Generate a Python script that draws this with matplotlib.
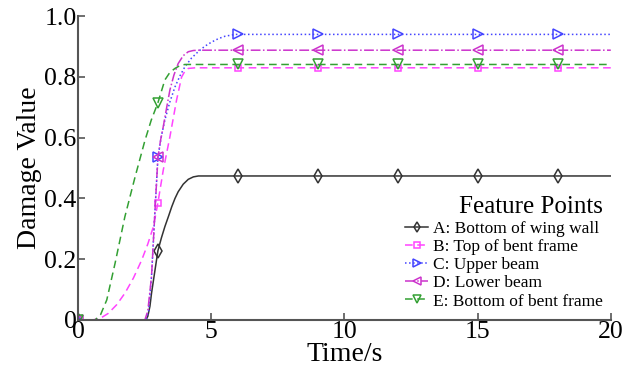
import numpy as np
import matplotlib.pyplot as plt

plt.rcParams['font.family'] = ['Liberation Serif', 'DejaVu Serif']

# ── Data (time in s, damage value) ───────────────────────────────────────────
t_a = [0, 2.55, 2.62, 2.7, 2.76, 2.89, 3.0, 3.13, 3.26, 3.4, 3.52, 3.64, 3.76, 3.95,
       4.14, 4.33, 4.52, 6, 9, 12, 15, 18, 20]
d_a = [0, 0, 0.012, 0.045, 0.088, 0.164, 0.228, 0.27, 0.307, 0.342, 0.373, 0.4,
       0.422, 0.447, 0.463, 0.471, 0.474, 0.474, 0.474, 0.474, 0.474, 0.474, 0.474]

t_b = [0, 0.55, 0.85, 1.14, 1.45, 1.76, 2.08, 2.39, 2.62, 2.83, 3.0, 3.2, 3.45, 3.70,
       3.89, 4.02, 4.14, 4.4, 6, 9, 12, 15, 18, 20]
d_b = [0, 0, 0.006, 0.022, 0.05, 0.088, 0.138, 0.197, 0.25, 0.307, 0.386, 0.493,
       0.603, 0.724, 0.80, 0.82, 0.828, 0.83, 0.83, 0.83, 0.83, 0.83, 0.83, 0.83]

t_c = [0, 2.55, 2.65, 2.76, 2.89, 3.0, 3.13, 3.26, 3.45, 3.64, 3.83, 4.01, 4.26, 4.51,
       4.76, 5.02, 5.27, 5.52, 5.9, 6, 9, 12, 15, 18, 20]
d_c = [0, 0, 0.03, 0.143, 0.36, 0.535, 0.605, 0.658, 0.718, 0.767, 0.804, 0.833,
       0.862, 0.883, 0.901, 0.915, 0.926, 0.934, 0.94, 0.94, 0.94, 0.94, 0.94, 0.94, 0.94]

t_d = [0, 2.51, 2.62, 2.76, 2.89, 3.0, 3.1, 3.2, 3.33, 3.45, 3.6, 3.76, 3.95, 4.14,
       4.33, 4.52, 6, 9, 12, 15, 18, 20]
d_d = [0, 0, 0.03, 0.143, 0.36, 0.535, 0.592, 0.636, 0.7, 0.757, 0.806, 0.844, 0.87,
       0.883, 0.887, 0.888, 0.888, 0.888, 0.888, 0.888, 0.888, 0.888]

t_e = [0, 0.64, 0.85, 1.08, 1.39, 1.76, 2.14, 2.51, 2.75, 3.0, 3.26, 3.45, 3.64, 3.82,
       4.01, 6, 9, 12, 15, 18, 20]
d_e = [0, 0, 0.018, 0.066, 0.186, 0.34, 0.47, 0.59, 0.658, 0.715, 0.79, 0.815, 0.828,
       0.837, 0.841, 0.841, 0.841, 0.841, 0.841, 0.841, 0.841]

marker_times = [0, 3, 6, 9, 12, 15, 18]

labels = ['A: Bottom of wing wall', 'B: Top of bent frame', 'C: Upper beam',
          'D: Lower beam', 'E: Bottom of bent frame']
series = [(t_a, d_a), (t_b, d_b), (t_c, d_c), (t_d, d_d), (t_e, d_e)]
colors = ['#333333', '#ff44ff', '#4444ff', '#cc33cc', '#33a033']
styles = ['-', (0, (5, 3)), ':', '-.', (0, (5, 3))]
markers = ['d', 's', '>', '<', 'v']
msizes = [7, 5, 7, 7, 7]

fig = plt.figure(figsize=(6.22, 3.76), dpi=100)
ax = fig.add_axes([0.1254, 0.149, 0.8566, 0.808])

for (t, d), c, ls, m, ms, lab in zip(series, colors, styles, markers, msizes, labels):
    t = np.array(t, dtype=float)
    d = np.array(d, dtype=float)
    # markers only at the sampled times
    idx = [i for i, v in enumerate(t) if v in marker_times]
    ax.plot(t, d, color=c, linestyle=ls, linewidth=1.1, marker=m, markersize=ms,
            markerfacecolor='none', markeredgewidth=1.1, markevery=idx, label=lab)

# ── Axes styling ─────────────────────────────────────────────────────────────
ax.set_xlim(0, 20)
ax.set_ylim(0, 1.0)
ax.set_xticks([0, 5, 10, 15, 20])
ax.set_xticklabels(['0', '5', '10', '15', '20'])
ax.set_yticks([0, 0.2, 0.4, 0.6, 0.8, 1.0])
ax.set_yticklabels(['0', '0.2', '0.4', '0.6', '0.8', '1.0'])
for s in ['top', 'right']:
    ax.spines[s].set_visible(False)
for s in ['left', 'bottom']:
    ax.spines[s].set_color('#555555')
    ax.spines[s].set_linewidth(1.5)
ax.tick_params(direction='in', length=5, width=1.2, color='#555555', labelsize=18.5, pad=1)
ax.set_xlabel('Time/s', fontsize=20, labelpad=-1)
ax.set_ylabel('Damage Value', fontsize=20, labelpad=2)

leg = ax.legend(title='Feature Points', loc='lower right', bbox_to_anchor=(1.005, 0.0),
                frameon=False, fontsize=12.5, title_fontsize=18, handlelength=1.3,
                handletextpad=0.3, labelspacing=0.12, borderaxespad=0.2,
                markerscale=0.75, alignment='right')

fig.savefig('out.png', dpi=100)
